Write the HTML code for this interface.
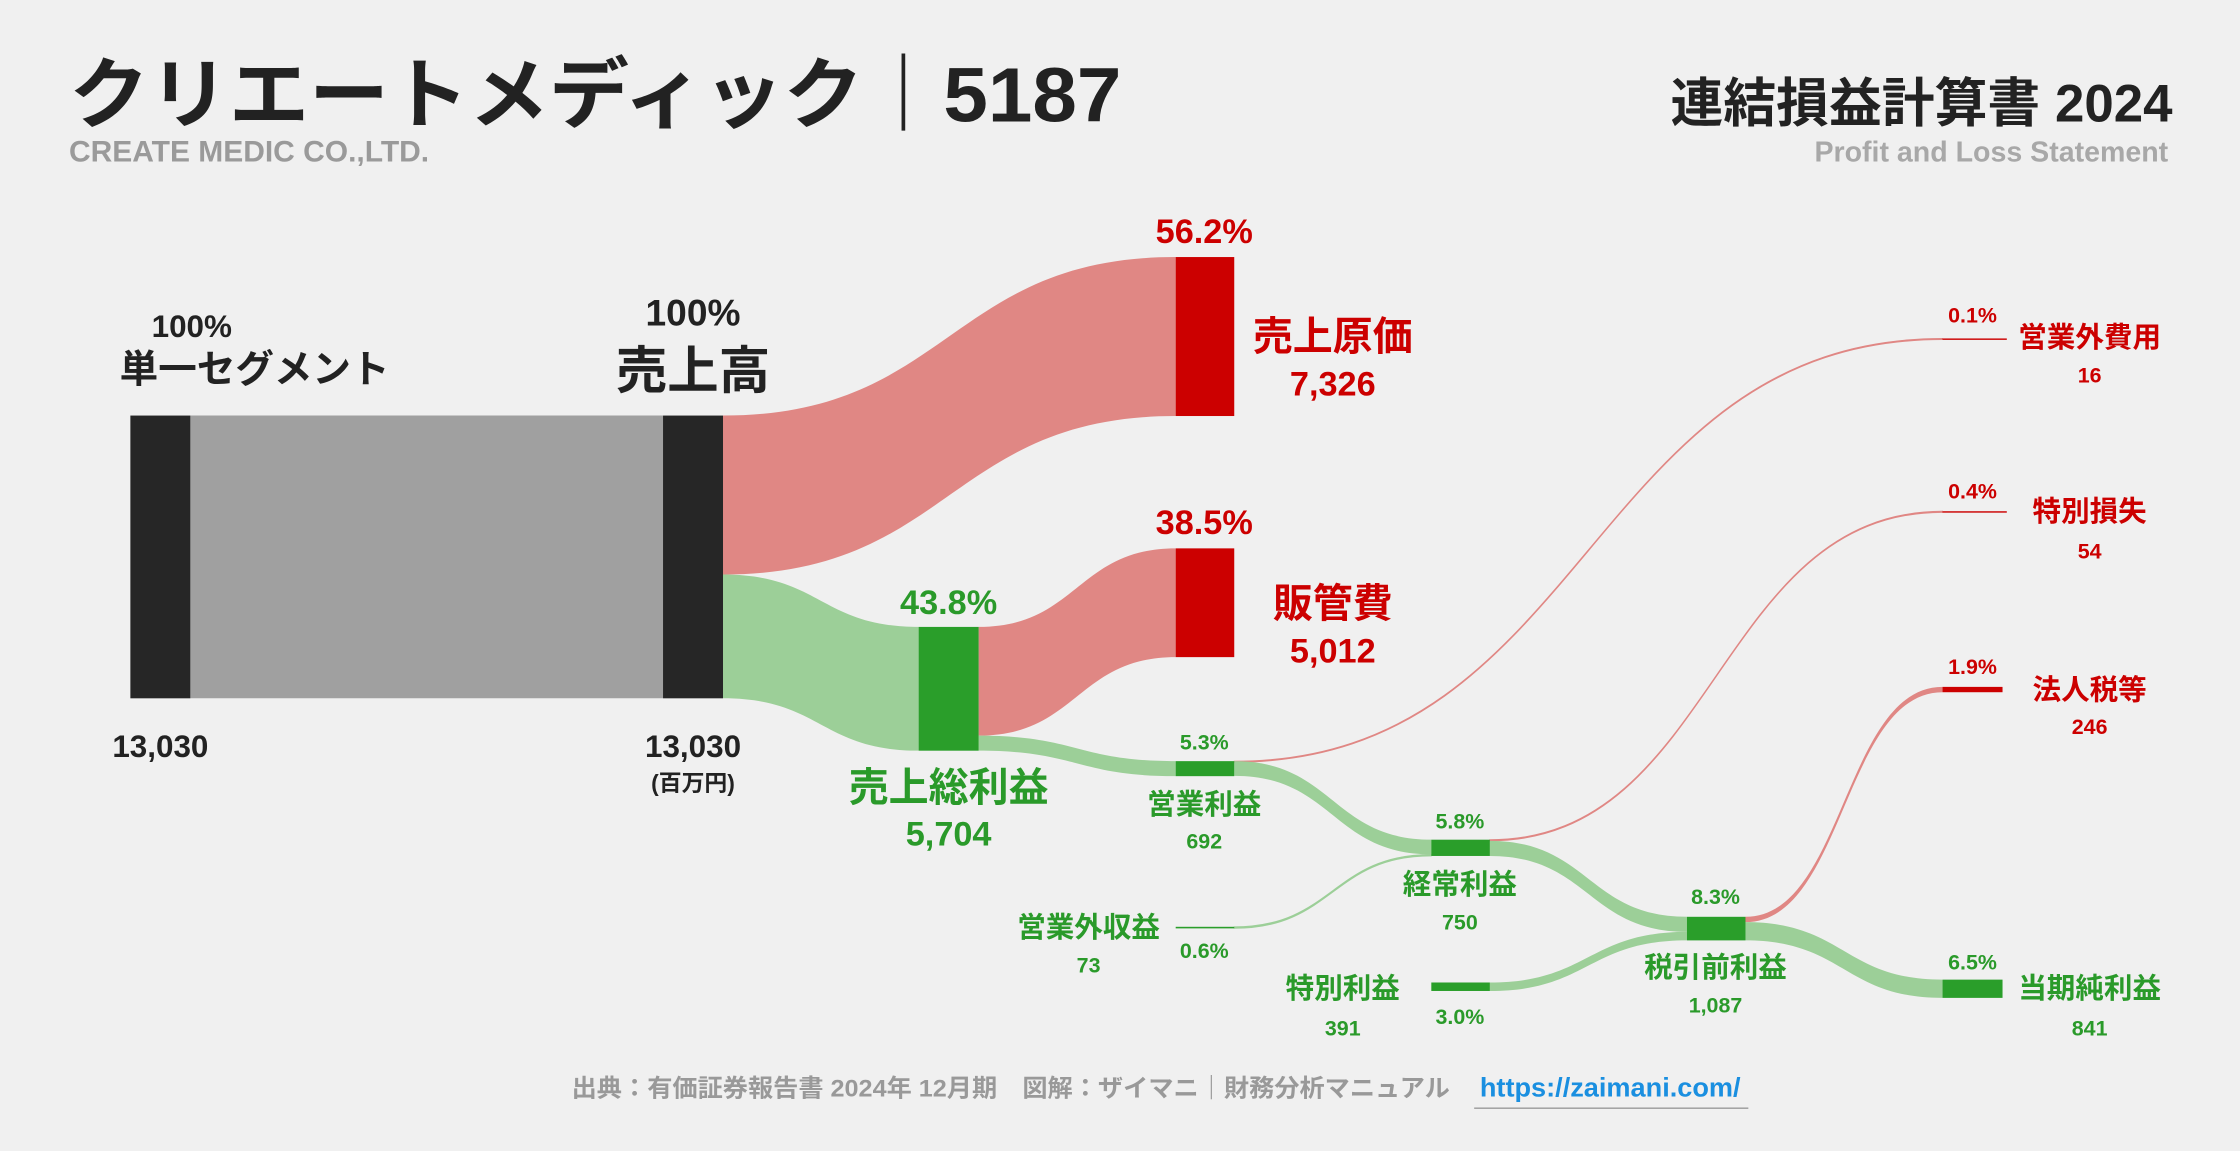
<!DOCTYPE html>
<html><head><meta charset="utf-8">
<style>
html,body{margin:0;padding:0;background:#f0f0f0;}
svg{display:block;}
text{font-family:"Liberation Sans","Noto Sans CJK JP",sans-serif;font-weight:bold;}
</style></head>
<body>
<svg id="chart" width="2240" height="1151" viewBox="0 0 1568 806" xmlns="http://www.w3.org/2000/svg">
<rect width="1568" height="806" fill="#f0f0f0"/>
<text x="48" y="85" font-size="54" fill="#222" textLength="737" lengthAdjust="spacingAndGlyphs">クリエートメディック｜5187</text>
<text x="48" y="113" font-size="21" fill="#9a9a9a">CREATE MEDIC CO.,LTD.</text>
<text x="1521" y="85" font-size="37" fill="#222" text-anchor="end">連結損益計算書 2024</text>
<text x="1518" y="113" font-size="20" fill="#a8a8a8" text-anchor="end">Profit and Loss Statement</text>
<g id="flows"></g>
<g id="nodes"></g>
<g id="labels"></g>
<text x="400" y="768" font-size="17" fill="#999" textLength="615" lengthAdjust="spacingAndGlyphs">出典：有価証券報告書 2024年 12月期　図解：ザイマニ｜財務分析マニュアル</text>
<text x="1036" y="768" font-size="19" fill="#1a8fe0">https://zaimani.com/</text>
<line x1="1032" y1="776" x2="1224" y2="776" stroke="#999" stroke-width="1"/>
</svg>
<script>
// data (百万円)
const revenue = 13030;
const costOfSales = 7326;
const grossProfit = 5704;
const sga = 5012;
const operatingProfit = 692;
const nonOpIncome = 73;
const nonOpExpense = 16;
const ordinaryProfit = 750;
const specialIncome = 391;
const specialLoss = 54;
const pretaxProfit = 1087;
const incomeTax = 246;
const netIncome = 841;

const NS = "http://www.w3.org/2000/svg";
const k = 198 / revenue;
const h = v => Math.max(v * k, 0.8);
const pct = v => (v / revenue * 100).toFixed(1) + "%";
const fmt = v => v.toLocaleString("en-US");
const flowsG = document.getElementById("flows");
const nodesG = document.getElementById("nodes");
const labelsG = document.getElementById("labels");
const PINK = "#e08784", GREEN = "#9ccf98", RED = "#cc0000", DG = "#2a9e2a", DGT = "#2a9a2a";

function flow(name, x0, y0, x1, y1, th, color) {
  const p = document.createElementNS(NS, "path");
  const mx = (x0 + x1) / 2;
  p.setAttribute("d", `M${x0},${y0} C${mx},${y0} ${mx},${y1} ${x1},${y1} L${x1},${y1 + th} C${mx},${y1 + th} ${mx},${y0 + th} ${x0},${y0 + th} Z`);
  p.setAttribute("fill", color);
  p.setAttribute("stroke", color);
  p.setAttribute("stroke-width", th < 2 ? 0.6 : 0);
  
  
  flowsG.appendChild(p);
}
function node(name, x, y, w, hh, color) {
  const r = document.createElementNS(NS, "rect");
  r.setAttribute("x", x); r.setAttribute("y", y);
  r.setAttribute("width", w); r.setAttribute("height", hh);
  r.setAttribute("fill", color);
  
  
  nodesG.appendChild(r);
}
function label(name, x, y, txt, size, color, anchor) {
  const t = document.createElementNS(NS, "text");
  t.setAttribute("x", x); t.setAttribute("y", y);
  t.setAttribute("font-size", size);
  t.setAttribute("fill", color);
  t.setAttribute("text-anchor", anchor || "middle");
  t.textContent = txt;
  
  
  labelsG.appendChild(t);
}

const top0 = 291;
const hRev = h(revenue), hCost = h(costOfSales), hGP = h(grossProfit), hSGA = h(sga), hOP = h(operatingProfit);
const gpTop = 439, costTop = 180, sgaTop = 384, opTop = 533;
const ordTop = 588, hOrd = h(ordinaryProfit);
const ptTop = 642, hPT = h(pretaxProfit);
const niTop = 686, hNI = h(netIncome);
const taxTop = 481, hTax = h(incomeTax);
const spiTop = 688, hSpI = h(specialIncome);
const noiY = 649, hNoi = h(nonOpIncome);

flow("flow-segment-revenue", 133, top0, 464, top0, hRev, "#a0a0a0");
flow("flow-cost-of-sales", 506, top0, 823, costTop, hCost, PINK);
flow("flow-gross-profit", 506, top0 + hCost, 643, gpTop, hGP, GREEN);
flow("flow-sga", 685, gpTop, 823, sgaTop, hSGA, PINK);
flow("flow-operating-profit", 685, gpTop + hSGA, 823, opTop, hOP, GREEN);
flow("flow-non-op-expense", 864, opTop, 1360, 237, h(nonOpExpense), PINK);
flow("flow-op-to-ordinary", 864, opTop, 1002, ordTop, hOrd - hNoi, GREEN);
flow("flow-non-op-income", 864, noiY, 1002, ordTop + hOrd - hNoi, hNoi, GREEN);
flow("flow-special-loss", 1043, ordTop, 1360, 358, h(specialLoss), PINK);
flow("flow-ordinary-to-pretax", 1043, ordTop + h(specialLoss), 1181, ptTop, hPT - hSpI, GREEN);
flow("flow-special-income", 1043, spiTop, 1181, ptTop + hPT - hSpI, hSpI, GREEN);
flow("flow-income-tax", 1222, ptTop, 1360, taxTop, hTax, PINK);
flow("flow-net-income", 1222, ptTop + hTax, 1360, niTop, hNI, GREEN);

node("node-segment", 91, top0, 42, hRev, "#262626");
node("node-revenue", 464, top0, 42, hRev, "#262626");
node("node-cost-of-sales", 823, costTop, 41, hCost, RED);
node("node-sga", 823, sgaTop, 41, hSGA, RED);
node("node-gross-profit", 643, gpTop, 42, hGP, DG);
node("node-operating-profit", 823, opTop, 41, hOP, DG);
node("node-ordinary-profit", 1002, ordTop, 41, hOrd, DG);
node("node-pretax-profit", 1181, ptTop, 41, hPT, DG);
node("node-net-income", 1360, niTop, 42, hNI, DG);
node("node-income-tax", 1360, taxTop, 42, hTax, RED);
node("node-special-income", 1002, spiTop, 41, hSpI, DG);
node("node-non-op-income", 823, noiY, 41, hNoi, DG);
node("node-non-op-expense", 1360, 237, 45, 1, RED);
node("node-special-loss", 1360, 358, 45, 1, RED);

label("segment-pct", 134, 236, "100%", 22, "#222");
label("segment-name", 178, 268, "単一セグメント", 27, "#222");
label("segment-value", 112, 530, fmt(revenue), 22, "#222");
label("revenue-pct", 485, 228, "100%", 26, "#222");
label("revenue-name", 485, 272, "売上高", 36, "#222");
label("revenue-value", 485, 530, fmt(revenue), 22, "#222");
label("unit-label", 485, 554, "(百万円)", 16, "#222");
label("cost-pct", 843, 170, pct(costOfSales), 24, RED);
label("cost-name", 933, 245, "売上原価", 28, RED);
label("cost-value", 933, 277, fmt(costOfSales), 24, RED);
label("sga-pct", 843, 374, pct(sga), 24, RED);
label("sga-name", 933, 432, "販管費", 28, RED);
label("sga-value", 933, 464, fmt(sga), 24, RED);
label("gp-pct", 664, 430, pct(grossProfit), 24, DGT);
label("gp-name", 664, 561, "売上総利益", 28, DGT);
label("gp-value", 664, 592, fmt(grossProfit), 24, DGT);
label("op-pct", 843, 525, pct(operatingProfit), 15, DGT);
label("op-name", 843, 570, "営業利益", 20, DGT);
label("op-value", 843, 594, fmt(operatingProfit), 15, DGT);
label("noe-pct", 1381, 226, pct(nonOpExpense), 15, RED);
label("noe-name", 1463, 243, "営業外費用", 20, RED);
label("noe-value", 1463, 268, fmt(nonOpExpense), 15, RED);
label("sl-pct", 1381, 349, pct(specialLoss), 15, RED);
label("sl-name", 1463, 365, "特別損失", 20, RED);
label("sl-value", 1463, 391, fmt(specialLoss), 15, RED);
label("tax-pct", 1381, 472, pct(incomeTax), 15, RED);
label("tax-name", 1463, 490, "法人税等", 20, RED);
label("tax-value", 1463, 514, fmt(incomeTax), 15, RED);
label("ord-pct", 1022, 580, pct(ordinaryProfit), 15, DGT);
label("ord-name", 1022, 626, "経常利益", 20, DGT);
label("ord-value", 1022, 651, fmt(ordinaryProfit), 15, DGT);
label("noi-name", 762, 656, "営業外収益", 20, DGT);
label("noi-value", 762, 681, fmt(nonOpIncome), 15, DGT);
label("noi-pct", 843, 671, pct(nonOpIncome), 15, DGT);
label("spi-name", 940, 699, "特別利益", 20, DGT);
label("spi-value", 940, 725, fmt(specialIncome), 15, DGT);
label("spi-pct", 1022, 717, pct(specialIncome), 15, DGT);
label("pt-pct", 1201, 633, pct(pretaxProfit), 15, DGT);
label("pt-name", 1201, 684, "税引前利益", 20, DGT);
label("pt-value", 1201, 709, fmt(pretaxProfit), 15, DGT);
label("ni-pct", 1381, 679, pct(netIncome), 15, DGT);
label("ni-name", 1463, 699, "当期純利益", 20, DGT);
label("ni-value", 1463, 725, fmt(netIncome), 15, DGT);
</script>
</body></html>
